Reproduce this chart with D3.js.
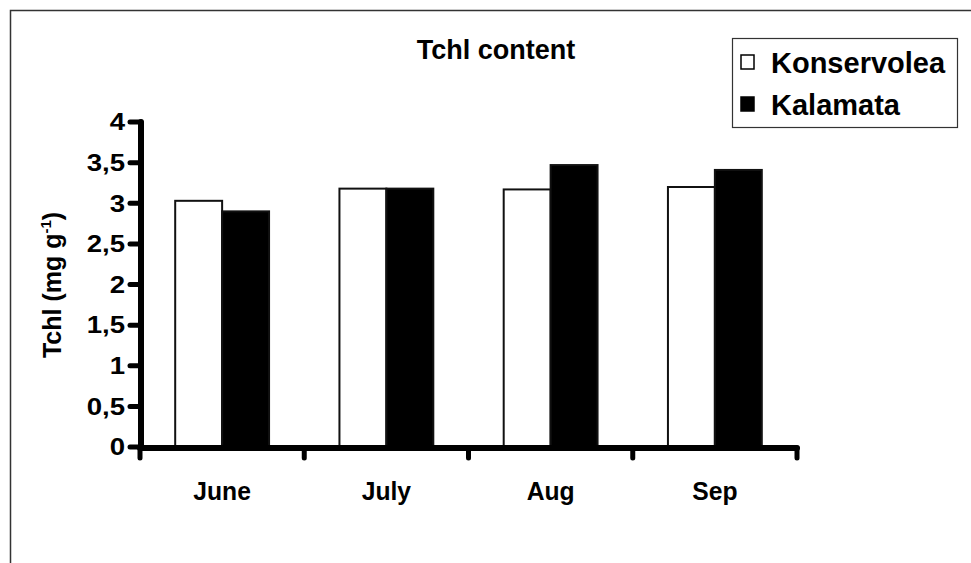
<!DOCTYPE html>
<html><head><meta charset="utf-8">
<script src="https://cdn.jsdelivr.net/npm/d3@7"></script>
<style>body{margin:0;background:#fff}svg{display:block;font-family:"Liberation Sans",Arial,sans-serif;font-weight:bold}</style>
</head><body><svg id="c" width="971" height="563"></svg>
<script>
const categories = ["June","July","Aug","Sep"];
const seriesNames = ["Konservolea","Kalamata"];
const konservolea = [3.03,3.18,3.17,3.20];
const kalamata = [2.90,3.18,3.47,3.41];
const yTicks = [0,0.5,1,1.5,2,2.5,3,3.5,4];
const yTickLabels = ["0","0,5","1","1,5","2","2,5","3","3,5","4"];

const svg = d3.select("#c");
svg.append("path").attr("d","M10.5,563 V10.5 H971").attr("fill","none").attr("stroke","#333").attr("stroke-width",1.5);

const x0 = 140, x1 = 797, yTop = 122, yBot = 447;
const x = d3.scaleBand().domain(categories).range([x0,x1]).paddingInner(0).paddingOuter(0);
const xs = d3.scaleBand().domain(seriesNames).range([0,x.bandwidth()]).paddingInner(0).paddingOuter(0.75);
const y = d3.scaleLinear().domain([0,4]).range([yBot,yTop]);

const data = categories.map((c,i)=>({c, vals:[konservolea[i],kalamata[i]]}));
const fills = ["#fff","#000"];
const g = svg.append("g");
data.forEach(d=>{
  d.vals.forEach((v,j)=>{
    g.append("rect")
      .attr("x", x(d.c)+xs(seriesNames[j]))
      .attr("y", y(v))
      .attr("width", xs.bandwidth())
      .attr("height", y(0)-y(v))
      .attr("fill", fills[j])
      .attr("stroke","#111").attr("stroke-width",2);
  });
});

// y axis
svg.append("line").attr("x1",x0+1).attr("x2",x0+1).attr("y1",y(4)).attr("y2",y(0))
  .attr("stroke","#000").attr("stroke-width",6).attr("stroke-linecap","round");
yTicks.forEach((t,i)=>{
  svg.append("line").attr("x1",x0-10).attr("x2",x0+1).attr("y1",y(t)).attr("y2",y(t))
    .attr("stroke","#000").attr("stroke-width",5).attr("stroke-linecap","round");
  svg.append("text").attr("transform",`translate(${x0-15},${y(t)}) scale(1.2,1)`).attr("dy","0.36em")
    .attr("text-anchor","end").attr("font-size",23).text(yTickLabels[i]);
});
// x axis
svg.append("line").attr("x1",x0).attr("x2",x1).attr("y1",y(0)+1).attr("y2",y(0)+1)
  .attr("stroke","#000").attr("stroke-width",6).attr("stroke-linecap","round");
const xTickPos = categories.map(c=>x(c)).concat([x1]);
xTickPos.forEach(p=>{
  svg.append("line").attr("x1",p).attr("x2",p).attr("y1",y(0)+1).attr("y2",y(0)+11)
    .attr("stroke","#000").attr("stroke-width",5).attr("stroke-linecap","round");
});
categories.forEach(c=>{
  svg.append("text").attr("transform",`translate(${x(c)+x.bandwidth()/2},500) scale(0.95,1)`)
    .attr("text-anchor","middle").attr("font-size",26).text(c);
});

// y title
const yt = svg.append("text").attr("transform","translate(61,285) rotate(-90)")
  .attr("text-anchor","middle").attr("font-size",25);
yt.append("tspan").text("Tchl (mg g");
yt.append("tspan").attr("dy",-10).attr("font-size",15).text("-1");
yt.append("tspan").attr("dy",10).text(")");

// title
svg.append("text").attr("x",496).attr("y",59).attr("text-anchor","middle").attr("font-size",27).text("Tchl content");

// legend
svg.append("rect").attr("x",732.5).attr("y",38.5).attr("width",225).attr("height",89)
  .attr("fill","#fff").attr("stroke","#333").attr("stroke-width",1.2);
seriesNames.forEach((s,j)=>{
  const cy = [62,104][j];
  svg.append("rect").attr("x",741).attr("y",cy-7).attr("width",13).attr("height",14)
    .attr("fill",fills[j]).attr("stroke","#000").attr("stroke-width",1.5);
  svg.append("text").attr("x",771).attr("y",cy+11).attr("font-size",29).text(s);
});
</script></body></html>
